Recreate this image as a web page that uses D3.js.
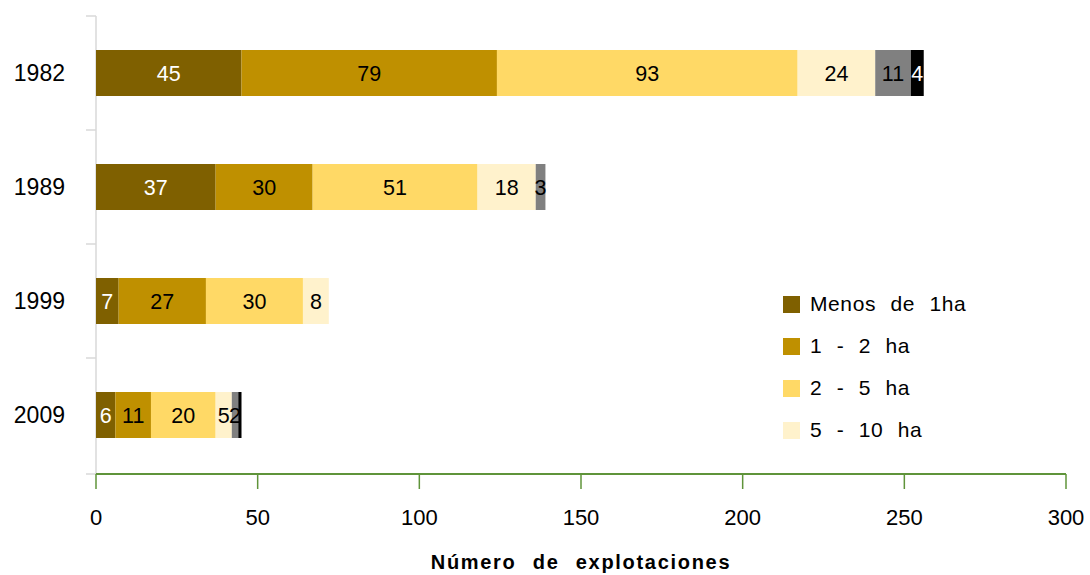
<!DOCTYPE html>
<html><head><meta charset="utf-8">
<script src="https://cdn.jsdelivr.net/npm/d3@7"></script>
<style>body{margin:0;background:#fff}svg{display:block;font-family:"Liberation Sans",Arial,sans-serif}</style>
</head><body><svg id="c" width="1090" height="575"></svg>
<script>
const years = ["1982","1989","1999","2009"];
const seriesNames = ["Menos de 1ha","1 - 2 ha","2 - 5 ha","5 - 10 ha","10 - 20 ha","Más de 20 ha"];
const menos1 = [45,37,7,6];
const ha1_2 = [79,30,27,11];
const ha2_5 = [93,51,30,20];
const ha5_10 = [24,18,8,5];
const ha10_20 = [11,3,0,2];
const mas20 = [4,0,0,1];
const xTicks = [0,50,100,150,200,250,300];
const legendShown = 4;
const colors = ["#7f6000","#bf9000","#ffd966","#fff2cc","#808080","#000000"];
const labelColors = ["#fff","#000","#000","#000","#000","#fff"];

(function(){
const allSeries = [menos1,ha1_2,ha2_5,ha5_10,ha10_20,mas20];
const rows = years.map((yr,i)=>{const o={year:yr};seriesNames.forEach((s,k)=>o[s]=allSeries[k][i]);return o;});
const stack = d3.stack().keys(seriesNames)(rows);

const svg = d3.select("#c");
const mLeft=96, mRight=1066, mTop=16, mBottom=472;
const x = d3.scaleLinear().domain([0,300]).range([mLeft,mRight]);
const y = d3.scaleBand().domain(years).range([mTop,mBottom]);
const barH = 46;

const yAxisG = svg.append("g");
yAxisG.append("line").attr("x1",mLeft).attr("x2",mLeft).attr("y1",mTop).attr("y2",mBottom+2).attr("stroke","#d9d9d9").attr("stroke-width",1.5);
const yTickPos = years.map(d=>y(d)).concat([mBottom+2]);
yAxisG.selectAll("line.t").data(yTickPos).enter().append("line").attr("class","t")
  .attr("x1",mLeft-10).attr("x2",mLeft).attr("y1",d=>d).attr("y2",d=>d).attr("stroke","#d9d9d9").attr("stroke-width",1.5);
yAxisG.selectAll("text").data(years).enter().append("text")
  .attr("x",65).attr("y",d=>y(d)+y.bandwidth()/2).attr("dy","0.35em").attr("text-anchor","end")
  .attr("font-size",23).attr("fill","#000").text(d=>d);

const g = svg.append("g");
stack.forEach((s,k)=>{
  g.selectAll(null).data(s).enter().append("rect")
    .attr("x",d=>x(d[0])).attr("width",d=>x(d[1])-x(d[0]))
    .attr("y",d=>y(d.data.year)+(y.bandwidth()-barH)/2).attr("height",barH)
    .attr("fill",colors[k]);
  g.selectAll(null).data(s.filter(d=>d[1]-d[0]>0 && x(d[1])-x(d[0])>=5)).enter().append("text")
    .attr("x",d=>(x(d[0])+x(d[1]))/2).attr("y",d=>y(d.data.year)+y.bandwidth()/2).attr("dy","0.36em")
    .attr("text-anchor","middle").attr("font-size",21.5).attr("fill",labelColors[k])
    .text(d=>d[1]-d[0]);
});

const xg = svg.append("g");
xg.append("line").attr("x1",mLeft).attr("x2",mRight).attr("y1",mBottom+2).attr("y2",mBottom+2).attr("stroke","#5f943a").attr("stroke-width",2);
xg.selectAll("line.t").data(xTicks).enter().append("line").attr("class","t")
  .attr("x1",d=>x(d)).attr("x2",d=>x(d)).attr("y1",mBottom+2).attr("y2",mBottom+17).attr("stroke","#5f943a").attr("stroke-width",1.5);
xg.selectAll("text").data(xTicks).enter().append("text")
  .attr("x",d=>x(d)).attr("y",517).attr("dy","0.35em").attr("text-anchor","middle")
  .attr("font-size",22).attr("fill","#000").text(d=>d);
svg.append("text").attr("x",581).attr("y",562).attr("dy","0.35em").attr("text-anchor","middle")
  .attr("font-size",20).attr("font-weight","bold").attr("word-spacing",9).attr("letter-spacing",1.7)
  .text("Número de explotaciones");

const lg = svg.append("g");
seriesNames.slice(0,legendShown).forEach((s,i)=>{
  const cy = 304 + i*42;
  lg.append("rect").attr("x",783).attr("y",cy-8).attr("width",17).attr("height",17).attr("fill",colors[i]);
  lg.append("text").attr("x",810).attr("y",cy).attr("dy","0.35em").attr("font-size",21).attr("word-spacing",8).attr("letter-spacing",0.6).attr("fill","#000").text(s);
});
})();
</script></body></html>
